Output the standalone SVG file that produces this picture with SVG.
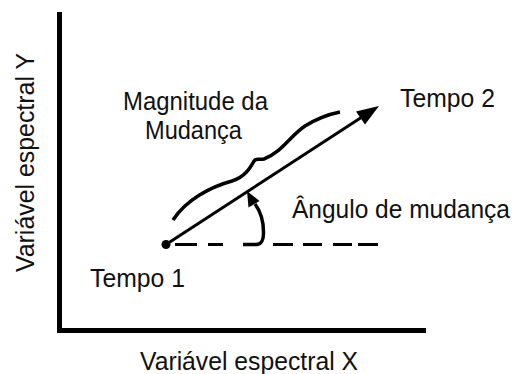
<svg xmlns="http://www.w3.org/2000/svg" width="514" height="374" viewBox="0 0 514 374">
<style>
text{font-family:"Liberation Sans",Arial,sans-serif;font-size:25px;fill:#111}
.ink{fill:none;stroke:#000;stroke-linecap:butt}
.head{fill:#000;stroke:none}
</style>
<rect width="514" height="374" fill="#fff"/>
<g id="axes">
<path class="ink" d="M59.5,12 V330.5 H426" stroke-width="5" stroke-linejoin="miter"/>
</g>
<g id="label-y"><text x="34" y="162.5" text-anchor="middle" transform="rotate(-90 34 162.5)" textLength="219" lengthAdjust="spacingAndGlyphs">Variável espectral Y</text></g>
<g id="label-x"><text x="249" y="370" text-anchor="middle" textLength="218" lengthAdjust="spacingAndGlyphs">Variável espectral X</text></g>
<g id="tempo1">
<circle cx="166" cy="244.5" r="4.5" fill="#000"/>
<text x="90" y="287" textLength="95" lengthAdjust="spacingAndGlyphs">Tempo 1</text>
</g>
<g id="tempo2"><text x="400" y="107" textLength="95" lengthAdjust="spacingAndGlyphs">Tempo 2</text></g>
<g id="magnitude">
<text x="123" y="110" textLength="145" lengthAdjust="spacingAndGlyphs">Magnitude da</text>
<text x="145" y="139" textLength="97" lengthAdjust="spacingAndGlyphs">Mudança</text>
<path class="ink" stroke-width="3.5" stroke-linecap="round" d="M173,220 C186,200 210,187 232,181 C245,177 250,168 254,161 C256,158 259,160 264,159 C281,153 290,136 305,126 C318,118 330,114 340,112"/>
</g>
<g id="angulo">
<text x="292" y="218" textLength="218" lengthAdjust="spacingAndGlyphs">Ângulo de mudança</text>
<path class="ink" stroke-width="3.5" d="M243,244.5 H257 C262,244 263.5,240 263.5,232 C263.5,220 261,212 255,204"/>
<polygon class="head" points="247,191 259.5,201 248.5,207.5"/>
</g>
<g id="connectors">
<path class="ink" stroke-width="3" d="M166,244.5 L362,117"/>
<polygon class="head" points="379,106 365,124.5 356,111.5"/>
<path class="ink" stroke-width="3" d="M175,244.5 H197 M208,244.5 H223 M273,244.5 H293 M303,244.5 H322 M333,244.5 H352 M358,244.5 H378"/>
</g>
</svg>
